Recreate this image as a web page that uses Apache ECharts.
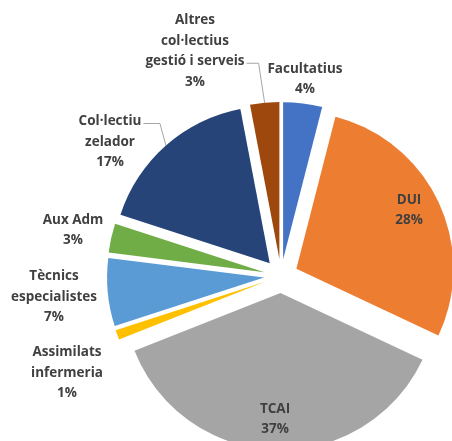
<!DOCTYPE html>
<html>
<head>
<meta charset="utf-8">
<script src="https://cdn.jsdelivr.net/npm/echarts@6/dist/echarts.min.js"></script>
<style>
  html, body { margin: 0; padding: 0; background: #fff; }
  #chart { width: 452px; height: 441px; }
</style>
</head>
<body>
<div id="chart"></div>
<script>
  // categories and shares (%), clockwise from 12 o'clock
  const categories = [
    'Facultatius',
    'DUI',
    'TCAI',
    'Assimilats\ninfermeria',
    'Tècnics\nespecialistes',
    'Aux Adm',
    'Col·lectiu\nzelador',
    'Altres\ncol·lectius\ngestió i serveis'
  ]
  const values = [4, 28, 37, 1, 7, 3, 17, 3]
  const colors = ['#4472C4', '#ED7D31', '#A5A5A5', '#FFC000', '#5B9BD5', '#70AD47', '#264478', '#9E480E']

  // where each label block is centred
  const labelPos = [
    [305, 79], [409, 210], [275, 419], [67, 373],
    [54, 297], [73, 230], [110, 142], [195, 51]
  ]
  const inside = [false, true, true, false, false, false, false, false]
  // leader lines: which line of the label they attach to
  const lineRow = { 6: 0, 7: 2 }

  const EXPLODE = 17
  const LINE_H = 20.5

  // the explode shift of each slice (labels are laid out before it is applied)
  const total = values.reduce((a, b) => a + b, 0)
  let acc = 0
  const shift = values.map(v => {
      const mid = (acc + v / 2) / total * Math.PI * 2
      acc += v
      return [EXPLODE * Math.sin(mid), -EXPLODE * Math.cos(mid)]
  })

  const chart = echarts.init(document.getElementById('chart'))

  chart.setOption({
      animation: false,
      series: [{
          type: 'pie',
          center: [281, 276],
          radius: 157,
          startAngle: 90,
          clockwise: true,
          selectedMode: 'multiple',
          selectedOffset: EXPLODE,
          avoidLabelOverlap: false,
          itemStyle: { borderWidth: 0 },
          select: {
              itemStyle: { borderWidth: 0 },
              label: { color: '#404040' }
          },
          emphasis: { disabled: true },
          label: {
              fontFamily: 'Open Sans',
              fontWeight: 'bold',
              fontSize: 13.5,
              lineHeight: LINE_H,
              color: '#404040',
              formatter: p => p.name + '\n' + Math.round(p.percent) + '%'
          },
          labelLine: {
              lineStyle: { color: '#A6A6A6', width: 1 }
          },
          labelLayout: params => {
              const i = params.dataIndex
              const r = params.labelRect
              const ax = params.align === 'left' ? r.x
                  : params.align === 'right' ? r.x + r.width : r.x + r.width / 2
              const ay = params.verticalAlign === 'top' ? r.y
                  : params.verticalAlign === 'bottom' ? r.y + r.height : r.y + r.height / 2
              const tx = labelPos[i][0] - shift[i][0]
              const ty = labelPos[i][1] - shift[i][1]
              const out = {
                  align: 'center',
                  verticalAlign: 'middle',
                  dx: tx - ax,
                  dy: ty - ay
              }
              if (lineRow[i] != null && params.labelLinePoints) {
                  const a = params.labelLinePoints[0]
                  const top = ty - r.height / 2
                  const rowY = top + LINE_H * (lineRow[i] + 0.5) + 2
                  const lineEnd = tx + r.width / 2 + 2
                  out.labelLinePoints = [
                      [a[0], a[1]],
                      [a[0] - 6, rowY],
                      [lineEnd, rowY]
                  ]
              }
              return out
          },
          data: categories.map((name, i) => ({
              name: name,
              value: values[i],
              selected: true,
              itemStyle: { color: colors[i] },
              label: { position: inside[i] ? 'inside' : 'outside' },
              labelLine: { show: lineRow[i] != null, length: 10, length2: 10 }
          }))
      }]
  })
</script>
</body>
</html>
